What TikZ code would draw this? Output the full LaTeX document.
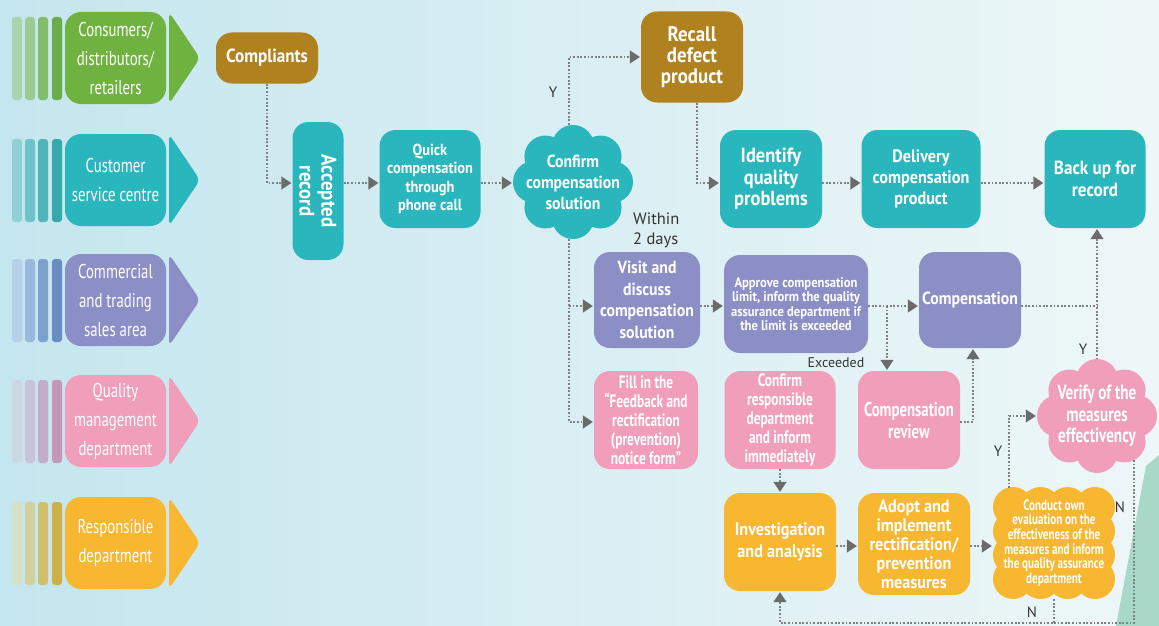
\documentclass[tikz,border=0pt]{standalone}
\usepackage{fontspec}
\setmainfont{PT Sans}
\newfontfamily\nf{PT Sans}[FakeStretch=0.9]
\newfontfamily\cf{PT Sans}[FakeStretch=0.74]
\newfontfamily\lf{PT Sans}
\usetikzlibrary{arrows.meta}
\definecolor{cTeal}{HTML}{29B7BD}
\definecolor{cBrown}{HTML}{B0811F}
\definecolor{cPurp}{HTML}{8C8FC6}
\definecolor{cPink}{HTML}{F09EBA}
\definecolor{cOrg}{HTML}{F7B731}
\definecolor{cGreen}{HTML}{70B23F}
\definecolor{cLine}{HTML}{808080}
\definecolor{cArrow}{HTML}{6B6B6B}
\definecolor{cLbl}{HTML}{333333}
\definecolor{bgL}{HTML}{C4E6EE}
\definecolor{bgR}{HTML}{EEF7F8}
\definecolor{bgG}{HTML}{A8D8C7}
% stripes
\definecolor{g1}{HTML}{AAD4B0}\definecolor{g2}{HTML}{9CCB92}\definecolor{g3}{HTML}{84BD6E}\definecolor{g4}{HTML}{6AAC4A}
\definecolor{t1}{HTML}{8FD0D5}\definecolor{t2}{HTML}{6CC3C8}\definecolor{t3}{HTML}{4FB5BB}\definecolor{t4}{HTML}{35A8AE}
\definecolor{p1}{HTML}{B5D0E9}\definecolor{p2}{HTML}{9AB7DD}\definecolor{p3}{HTML}{7F9FD0}\definecolor{p4}{HTML}{6A8CC4}
\definecolor{k1}{HTML}{CDD6E3}\definecolor{k2}{HTML}{C9C3D9}\definecolor{k3}{HTML}{C2ADCA}\definecolor{k4}{HTML}{C496B7}
\definecolor{o1}{HTML}{D6DFC7}\definecolor{o2}{HTML}{D4D09C}\definecolor{o3}{HTML}{D0C06E}\definecolor{o4}{HTML}{CDB048}
\tikzset{
  proc/.style={rectangle, rounded corners=16pt, text=white, align=center, inner sep=0pt},
  txt/.style={text=white, align=center, inner sep=0pt},
  bfA/.style 2 args={font=\nf\bfseries\fontsize{#1}{#2}\selectfont},
  cnd/.style 2 args={font=\cf\bfseries\fontsize{#1}{#2}\selectfont},
  link/.style={draw=cLine, line width=1.4pt, dash pattern=on 1.8pt off 1.8pt},
  arr/.style={link, -{Triangle[length=10pt,width=13pt,color=cArrow]}, shorten >=1pt},
  lbl/.style={text=cLbl, font=\lf\fontsize{15}{19}\selectfont, inner sep=0pt},
}
\newcommand\lane[8]{%
  \fill[#3,rounded corners=3pt] (12,#2-41) rectangle (22,#2+42);
  \fill[#4,rounded corners=3pt] (25,#2-41) rectangle (35,#2+42);
  \fill[#5,rounded corners=3pt] (38,#2-41) rectangle (48,#2+42);
  \fill[#6,rounded corners=3pt] (52,#2-41) rectangle (62,#2+42);
  \fill[#7,rounded corners=6pt] (169,#2-46) -- (200,#2) -- (169,#2+46) -- cycle;
  \node[proc, fill=#7, minimum width=101pt, minimum height=92pt, font=\cf\fontsize{20}{29}\selectfont] (#1) at (115.5,#2) {#8};
}
% flower cloud: cx cy a b R color
\newcommand\flower[6]{%
  \fill[#6] (#1,#2) ellipse [x radius=#3-#5, y radius=#4-#5];
  \foreach \t in {0,45,...,315}{\fill[#6] ({#1+(#3-#5)*cos(\t)},{#2+(#4-#5)*sin(\t)}) circle [radius=#5];}
}
\newcommand\squarecloud[5]{% cx cy a b color, R=20
  \fill[#5] (#1-#3+20,#2-#4+20) rectangle (#1+#3-20,#2+#4-20);
  \foreach \dx/\dy in {-1/-1,-0.33/-1,0.33/-1,1/-1,-1/1,-0.33/1,0.33/1,1/1,-1/-0.33,-1/0.33,1/-0.33,1/0.33}{%
    \fill[#5] ({#1+\dx*(#3-20)},{#2+\dy*(#4-20)}) circle [radius=20];}
}
\begin{document}
\begin{tikzpicture}[x=1pt,y=-1pt]
\useasboundingbox (0,0) rectangle (1159,626);
\shade[left color=bgL, right color=bgR] (0,0) rectangle (1159,626);
\fill[bgG] (1146,466) -- (1159,455) -- (1159,626) -- (1116,626) -- cycle;

% lanes
\lane{l1}{58}{g1}{g2}{g3}{g4}{cGreen}{Consumers/\\distributors/\\retailers}
\lane{l2}{180}{t1}{t2}{t3}{t4}{cTeal}{Customer\\service centre}
\lane{l3}{300}{p1}{p2}{p3}{p4}{cPurp}{Commercial\\and trading\\sales area}
\lane{l4}{421}{k1}{k2}{k3}{k4}{cPink}{Quality\\management\\department}
\lane{l5}{543}{o1}{o2}{o3}{o4}{cOrg}{Responsible\\department}

% process nodes
\node[proc, fill=cBrown, minimum width=102pt, minimum height=51pt, bfA={19}{21}] (comp) at (267,58) {Compliants};
\node[proc, fill=cTeal, minimum width=138pt, minimum height=51pt, rotate=-90, bfA={21}{22}] (acc) at (318,191) {Accepted\\record};
\node[proc, fill=cTeal, minimum width=101pt, minimum height=98pt, bfA={16}{18.5}] (quick) at (430,179) {Quick\\compensation\\through\\phone call};
\flower{573}{182}{60}{57}{21}{cTeal}
\node[txt, minimum width=120pt, minimum height=114pt, bfA={17.5}{21}] (conf) at (573,182) {Confirm\\compensation\\solution};
\node[proc, fill=cBrown, minimum width=102pt, minimum height=91pt, bfA={21}{21}] (recall) at (692,57) {Recall\\defect\\product};
\node[proc, fill=cTeal, minimum width=102pt, minimum height=98pt, bfA={20.5}{21.5}] (ident) at (771,179) {Identify\\quality\\problems};
\node[proc, fill=cTeal, minimum width=119pt, minimum height=98pt, bfA={18}{21}] (deliv) at (921,179) {Delivery\\compensation\\product};
\node[proc, fill=cTeal, minimum width=101pt, minimum height=98pt, bfA={19}{22}] (backup) at (1095,179) {Back up for\\record};
\node[proc, fill=cPurp, minimum width=106pt, minimum height=96pt, bfA={17.5}{21.5}] (visit) at (647,300) {Visit and\\discuss\\compensation\\solution};
\node[proc, fill=cPurp, minimum width=144pt, minimum height=98pt, bfA={14}{14.5}] (approve) at (796,304) {Approve compensation\\limit, inform the quality\\assurance department if\\the limit is exceeded};
\node[proc, fill=cPurp, minimum width=102pt, minimum height=96pt, bfA={17.5}{21}] (compn) at (970,300) {Compensation};
\node[proc, fill=cPink, minimum width=104pt, minimum height=98pt, cnd={18}{19}] (fill) at (646,420) {Fill in the\\“Feedback and\\rectification\\(prevention)\\notice form”};
\node[proc, fill=cPink, minimum width=111pt, minimum height=98pt, cnd={18}{19}] (crd) at (780,420) {Confirm\\responsible\\department\\and inform\\immediately};
\node[proc, fill=cPink, minimum width=102pt, minimum height=98pt, cnd={20}{22}] (review) at (909,420) {Compensation\\review};
\flower{1097}{416}{60}{57}{21}{cPink}
\node[txt, minimum width=120pt, minimum height=113pt, cnd={20.5}{21.5}] (verify) at (1097,416) {Verify of the\\measures\\effectivency};
\node[proc, fill=cOrg, minimum width=112pt, minimum height=98pt, bfA={18}{22}] (inv) at (780,542) {Investigation\\and analysis};
\node[proc, fill=cOrg, minimum width=112pt, minimum height=102pt, bfA={18}{19}] (adopt) at (914,544) {Adopt and\\implement\\rectification/\\prevention\\measures};
\squarecloud{1054}{543}{61}{56}{cOrg}
\node[txt, minimum width=122pt, minimum height=112pt, cnd={15}{14.6}] (conduct) at (1054,543) {Conduct own\\evaluation on the\\effectiveness of the\\measures and inform\\the quality assurance\\department};

% connectors
\coordinate (r2) at (0,183);
\coordinate (r3) at (0,306);
\coordinate (r4) at (0,422);
\coordinate (r5) at (0,546);
\coordinate (bot) at (0,623);
\draw[arr] (comp.south) |- (acc.south |- r2);
\draw[arr] (acc.north |- r2) -- (quick.west |- r2);
\draw[arr] (quick.east |- r2) -- (conf.west |- r2);
\draw[arr] ([xshift=-4pt]conf.north) |- (recall.west);
\draw[arr] ([xshift=5pt]recall.south) |- (ident.west |- r2);
\draw[arr] (ident.east |- r2) -- (deliv.west |- r2);
\draw[arr] (deliv.east |- r2) -- (backup.west |- r2);
\coordinate (cs) at ([xshift=-4pt]conf.south);
\draw[arr] (cs) |- (fill.west |- r4);
\draw[arr] (cs |- r3) -- (visit.west |- r3);
\draw[arr] (visit.east |- r3) -- (approve.west |- r3);
\draw[arr] (approve.east |- r3) -- (compn.west |- r3);
\coordinate (ex) at (887,306);
\draw[arr] (ex) -- (ex |- review.north);
\draw[arr] (review.east |- r4) -| ([xshift=3pt]compn.south);
\draw[arr] (verify.north) -- (verify.north |- backup.south);
\draw[link] (compn.east |- r3) -- (verify.north |- r3);
\draw[arr] (crd.south) -- (inv.north);
\draw[arr] (inv.east |- r5) -- (adopt.west |- r5);
\draw[arr] (adopt.east |- r5) -- (conduct.west |- r5);
\coordinate (cy) at (1009,488);
\draw[arr] (cy) |- (verify.west);
\draw[arr] (conduct.south) |- (inv.south |- bot) -- (inv.south);
\coordinate (nv) at (1134,460);
\draw[link] (nv) -- (nv |- bot) -- (conduct.south |- bot);

% labels
\node[lbl] (ly1) at (553,92) {Y};
\node[lbl, align=left, anchor=west, font=\lf\fontsize{16.5}{20}\selectfont] (lw) at (633,230) {Within\\2 days};
\node[lbl, font=\lf\fontsize{14}{17}\selectfont] (lex) at (836,363) {Exceeded};
\node[lbl] (ly2) at (1083,349) {Y};
\node[lbl] (ly3) at (998,451) {Y};
\node[lbl] (ln1) at (1120,507) {N};
\node[lbl] (ln2) at (1032,612) {N};
\end{tikzpicture}
\end{document}
